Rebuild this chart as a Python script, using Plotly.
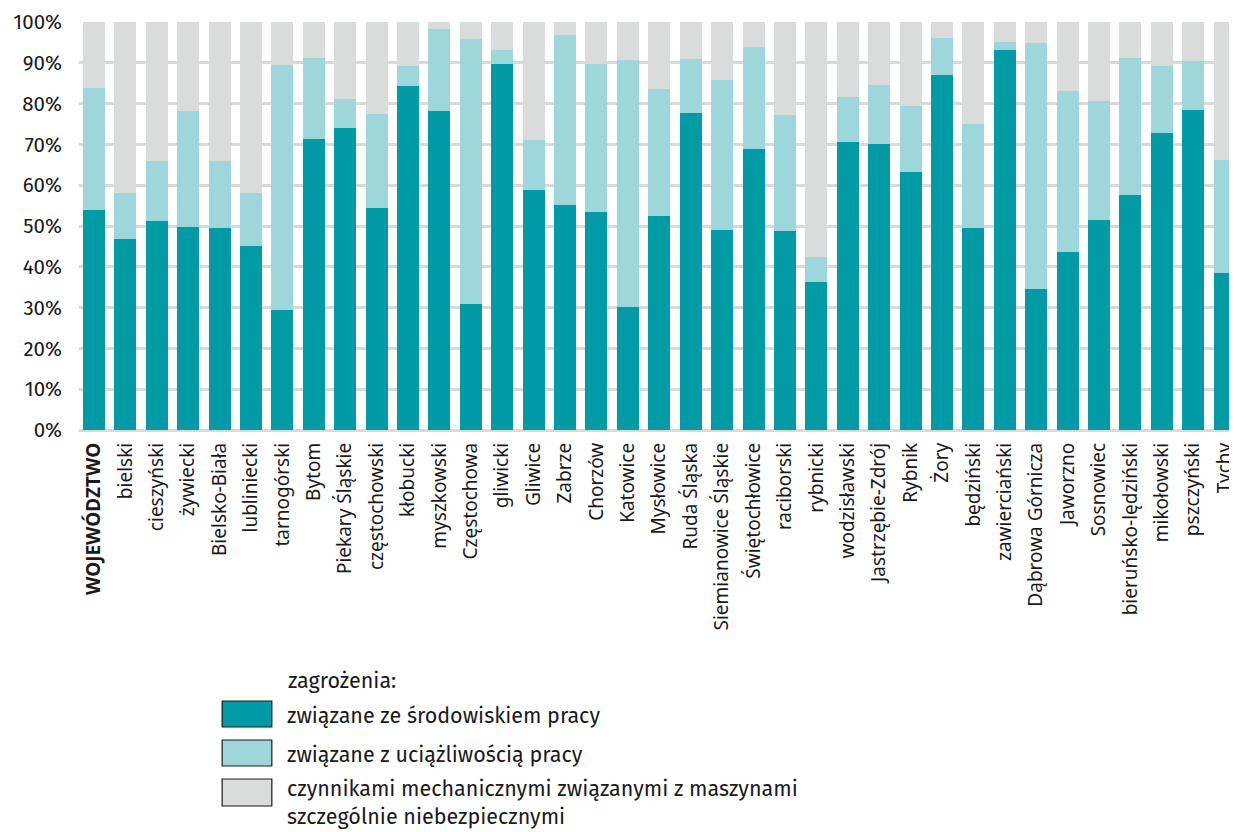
import plotly.graph_objects as go

categories = ["WOJEWÓDZTWO", "bielski", "cieszyński", "żywiecki", "Bielsko-Biała", "lubliniecki",
              "tarnogórski", "Bytom", "Piekary Śląskie", "częstochowski", "kłobucki", "myszkowski",
              "Częstochowa", "gliwicki", "Gliwice", "Zabrze", "Chorzów", "Katowice", "Mysłowice",
              "Ruda Śląska", "Siemianowice Śląskie", "Świętochłowice", "raciborski", "rybnicki",
              "wodzisławski", "Jastrzębie-Zdrój", "Rybnik", "Żory", "będziński", "zawierciański",
              "Dąbrowa Górnicza", "Jaworzno", "Sosnowiec", "bieruńsko-lędziński", "mikołowski",
              "pszczyński", "Tychy"]

# share (%) of hazards related to the working environment
srodowisko = [54.0, 46.9, 51.2, 49.7, 49.5, 45.1, 29.3, 71.3, 74.0, 54.4, 84.2, 78.1,
              30.9, 89.6, 58.8, 55.2, 53.4, 30.1, 52.5, 77.7, 49.0, 68.9, 48.7, 36.2,
              70.5, 70.0, 63.2, 86.9, 49.5, 93.1, 34.5, 43.6, 51.4, 57.6, 72.8, 78.5, 38.4]
# share (%) of hazards related to strenuous work
uciazliwosc = [29.8, 11.3, 14.8, 28.4, 16.5, 12.9, 60.1, 20.0, 7.1, 23.0, 4.9, 20.1,
               65.0, 3.5, 12.2, 41.5, 36.4, 60.5, 31.0, 13.2, 36.8, 24.9, 28.4, 6.1,
               11.0, 14.5, 16.1, 9.1, 25.4, 1.9, 60.3, 39.4, 29.2, 33.7, 16.3, 11.9, 27.7]
# share (%) of mechanical factors related to especially dangerous machines
mechaniczne = [round(100 - a - b, 1) for a, b in zip(srodowisko, uciazliwosc)]

series_names = ["związane ze środowiskiem pracy",
                "związane z uciążliwością pracy",
                "czynnikami mechanicznymi związanymi z maszynami<br>szczególnie niebezpiecznymi"]
legend_title = "zagrożenia:"
y_ticks = [0, 10, 20, 30, 40, 50, 60, 70, 80, 90, 100]
y_ticklabels = [f"{v}%" for v in y_ticks]

colors = ["#009BA5", "#9DD7DB", "#DADBDB"]
label_font = "Fira Sans, Lato, sans-serif"
cat_font = "Noto Sans, Open Sans, sans-serif"
txt_color = "#1a1a1a"

fig = go.Figure()
for vals, name, col in zip([srodowisko, uciazliwosc, mechaniczne], series_names, colors):
    fig.add_trace(go.Bar(x=categories, y=vals, name=name, marker_color=col,
                         marker_line_width=0, showlegend=False))

ticktext = [f"<b>{c}</b>" if i == 0 else c for i, c in enumerate(categories)]

# plot area (screen pixels): left 79, right 1237 (clipped), top 22, bottom 430
PL, PR, PT, PB = 79.0, 1237.0, 22.0, 430.0

fig.update_layout(
    width=1229, height=824,
    margin=dict(l=71, r=0, t=14, b=402),
    barmode="stack", bargap=0.30,
    plot_bgcolor="white", paper_bgcolor="white",
    font=dict(family=label_font, size=20, color=txt_color),
    xaxis=dict(type="category", range=[-0.475, 36.17], tickangle=-90,
               tickvals=categories, ticktext=ticktext,
               tickfont=dict(family=cat_font, size=19, color=txt_color),
               showgrid=False, ticks="", showline=False, ticklabelstandoff=8),
    yaxis=dict(range=[0, 100], tickvals=y_ticks, ticktext=y_ticklabels,
               showgrid=True, gridcolor="#D9D9D9", gridwidth=2.5,
               zeroline=True, zerolinecolor="#D9D9D9", zerolinewidth=2.5,
               ticks="", ticklabelstandoff=16,
               tickfont=dict(family=label_font, size=20.5, color=txt_color)),
)


def px_x(x):
    return (x - PL) / (PR - PL)


def px_y(y):
    return (PB - y) / (PB - PT)


# manual legend
box_x0, box_x1 = 223, 273
box_rows = [(701, 727), (740, 766), (779, 806)]
text_x = 287
leg_size = 21.5
fig.add_annotation(x=px_x(text_x), y=px_y(681), xref="paper", yref="paper",
                   text=legend_title, showarrow=False, xanchor="left", yanchor="middle",
                   font=dict(family=label_font, size=leg_size, color=txt_color))
for (y0, y1), name, col in zip(box_rows, series_names, colors):
    fig.add_shape(type="rect", xref="paper", yref="paper",
                  x0=px_x(box_x0), x1=px_x(box_x1), y0=px_y(y1), y1=px_y(y0),
                  fillcolor=col, line=dict(color=txt_color, width=1.2))
    ycen = (y0 + y1) / 2 + 2 if "<br>" not in name else 803
    fig.add_annotation(x=px_x(text_x), y=px_y(ycen),
                       xref="paper", yref="paper", text=name, showarrow=False,
                       xanchor="left", yanchor="middle", align="left", borderpad=0,
                       font=dict(family=label_font, size=leg_size, color=txt_color))

fig.write_html("out.html")
